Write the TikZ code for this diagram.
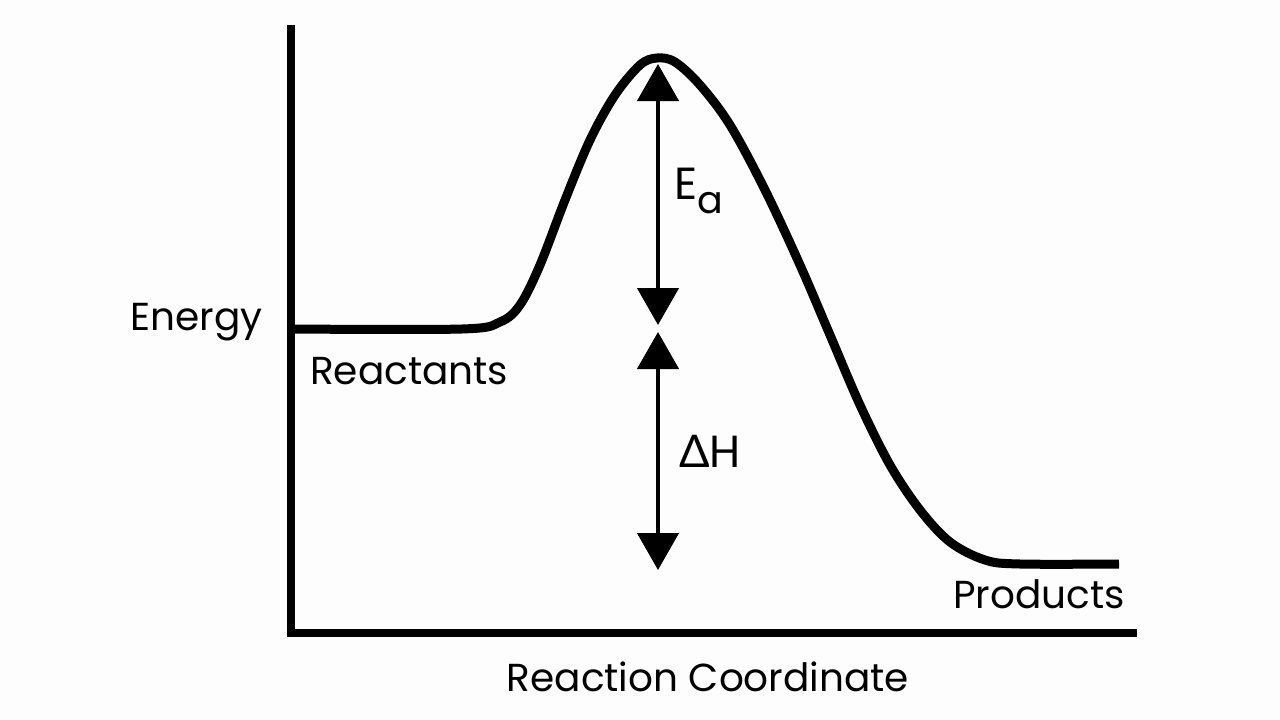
\documentclass[tikz,border=0pt]{standalone}
\usepackage{fontspec}
\setmainfont{Poppins}
\newfontfamily\deltaFont{Lato}
\usetikzlibrary{positioning,arrows.meta}
\definecolor{paperColor}{RGB}{253,253,253}
\tikzstyle{canvas} = [x=1pt, y=-1pt]
\tikzstyle{axisLine} = [line width=8pt, line join=miter]
\tikzstyle{energyCurve} = [line width=9pt, line join=round]
\tikzstyle{gapArrow} = [line width=4.5pt, {Triangle[length=37pt, width=41pt]}-{Triangle[length=37pt, width=41pt]}]
\tikzstyle{plotLabel} = [font=\fontsize{39}{44}\selectfont, inner sep=0pt]
\tikzstyle{gapLabel} = [font=\fontsize{45}{50}\selectfont, inner sep=0pt]
\newcommand{\subA}{\raisebox{-14pt}{\fontsize{38}{42}\selectfont a}}

\begin{document}
\begin{tikzpicture}[canvas]
  \fill [paperColor] (0,0) rectangle (1280,720);
  \useasboundingbox (0,0) rectangle (1280,720);

  % axes
  \draw [axisLine] (291,25) -- (291,633) -- (1137,633);

  % reaction profile
  \draw [energyCurve] plot [smooth, tension=0.55] coordinates {
    (291,329) (462,329) (500,322) (520,305) (540,265) (565,200) (590,140)
    (615,95) (640,65) (657,58) (675,62) (700,85) (730,125) (765,190)
    (800,265) (830,335) (860,405) (890,465) (920,510) (950,542) (985,560)
    (1020,564) (1119,564)};

  % arrows
  \coordinate (eaTop) at (658,64);
  \coordinate (eaBottom) at (658,325);
  \coordinate (dhTop) at (658,332);
  \coordinate (dhBottom) at (658,570);
  \draw [gapArrow] (eaBottom) -- (eaTop);
  \draw [gapArrow] (dhTop) -- (dhBottom);

  % labels
  \node [plotLabel, anchor=base east] (energy) at (263,330) {Energy};
  \node [plotLabel, anchor=base west] (reactants) at (310,384) {Reactants};
  \node [plotLabel, anchor=base east] (products) at (1125,608) {Products};
  \node [plotLabel, anchor=base] (coordinate) at (708,691) {Reaction Coordinate};
  \node [gapLabel, anchor=base west] (ea) at (674,199) {E\subA};
  \node [gapLabel, anchor=base west] (dh) at (679,467) {{\deltaFont Δ}H};
\end{tikzpicture}
\end{document}
